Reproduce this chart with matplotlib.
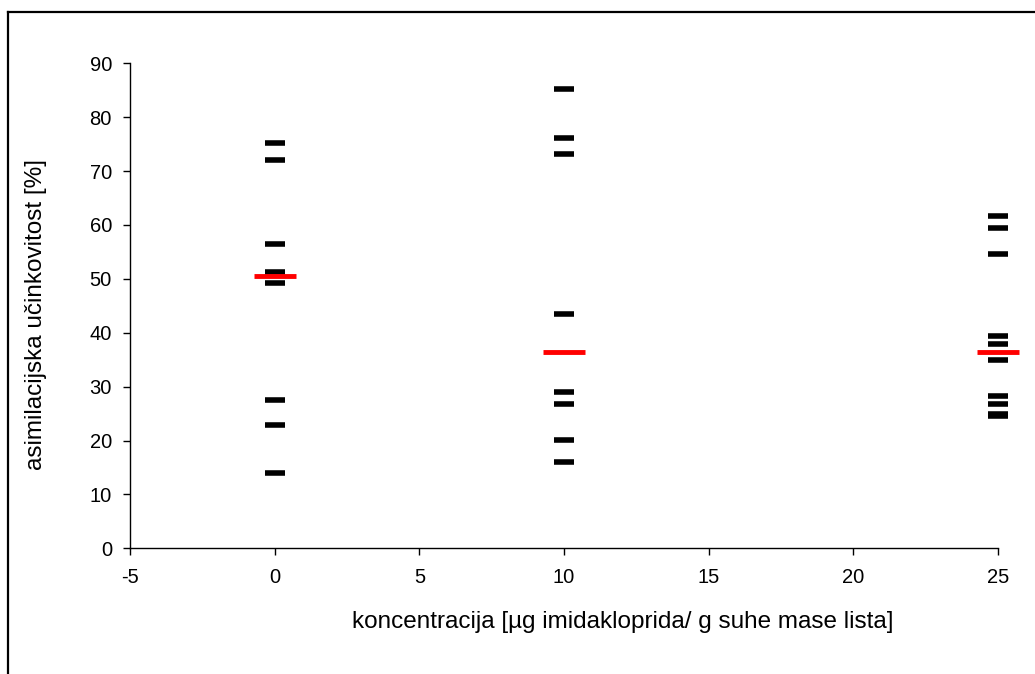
import matplotlib
matplotlib.use("Agg")
import matplotlib.pyplot as plt
from matplotlib.lines import Line2D

# concentrations and measured efficiency per group
conc = [0, 10, 25]
eff_0 = [75.3, 72.0, 56.4, 51.3, 49.3, 27.5, 22.8, 13.9]
eff_10 = [85.3, 76.1, 73.1, 43.5, 29.0, 26.8, 20.1, 16.1]
eff_25 = [61.6, 59.4, 54.6, 39.4, 37.9, 34.9, 28.3, 26.8, 25.0, 24.6]
medians = [50.5, 36.4, 36.4]

x_ticks = [-5, 0, 5, 10, 15, 20, 25]
y_ticks = [0, 10, 20, 30, 40, 50, 60, 70, 80, 90]

plt.rcParams['font.family'] = ['Liberation Sans', 'DejaVu Sans']
plt.rcParams['axes.unicode_minus'] = False

fig = plt.figure(figsize=(10.35, 6.74), dpi=100)
ax = fig.add_axes([0.1256, 0.1865, 0.8387, 0.7196])

for x, vals in zip(conc, [eff_0, eff_10, eff_25]):
    ax.plot([x] * len(vals), vals, linestyle='none', marker='_',
            markersize=14, markeredgewidth=4, color='black', zorder=3, clip_on=False)

ax.plot(conc, medians, linestyle='none', marker='_', markersize=30,
        markeredgewidth=3.5, color='#ff0000', zorder=4, clip_on=False)

ax.set_xlim(-5, 25)
ax.set_ylim(0, 90)
ax.set_xticks(x_ticks)
ax.set_yticks(y_ticks)
ax.tick_params(axis='both', labelsize=14.5, length=5, width=1, color='black')
ax.tick_params(axis='x', pad=9)
ax.tick_params(axis='y', pad=8)
for side in ['top', 'right']:
    ax.spines[side].set_visible(False)
for side in ['left', 'bottom']:
    ax.spines[side].set_linewidth(1)

fig.text(623 / 1035, 1 - 622 / 674, "koncentracija [µg imidakloprida/ g suhe mase lista]",
         fontsize=17.5, ha='center', va='center')
fig.text(36 / 1035, 1 - 315 / 674, "asimilacijska učinkovitost [%]",
         fontsize=17.5, ha='center', va='center', rotation=90)

# outer frame (top and left only)
fig.add_artist(Line2D([7.5 / 1035, 7.5 / 1035], [0, 1 - 12 / 674], color='black', linewidth=1.6,
                      transform=fig.transFigure))
fig.add_artist(Line2D([7.5 / 1035, 1], [1 - 12 / 674, 1 - 12 / 674], color='black', linewidth=1.6,
                      transform=fig.transFigure))

fig.savefig("out.png", dpi=100)
